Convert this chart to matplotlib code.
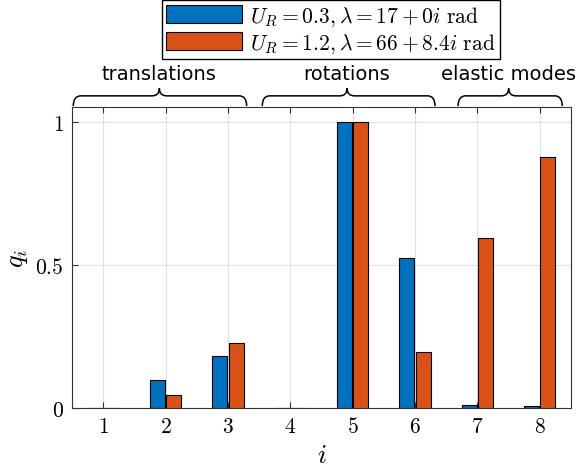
import numpy as np
import matplotlib
matplotlib.use("Agg")
import matplotlib.pyplot as plt
from matplotlib.path import Path
from matplotlib.patches import PathPatch
from matplotlib.transforms import blended_transform_factory

plt.rcParams["mathtext.fontset"] = "cm"
plt.rcParams["font.family"] = "DejaVu Sans"

# data
modes = [1, 2, 3, 4, 5, 6, 7, 8]
q_low = [0.0, 0.098, 0.183, 0.0, 1.0, 0.524, 0.010, 0.008]
q_high = [0.0, 0.045, 0.227, 0.0, 1.0, 0.196, 0.593, 0.876]
labels = [r"$U_R = 0.3, \lambda = 17 + 0i\ \mathrm{rad}$",
          r"$U_R = 1.2, \lambda = 66 + 8.4i\ \mathrm{rad}$"]
groups = ["translations", "rotations", "elastic modes"]
group_spans = [(0.52, 3.30, 1.90), (3.55, 6.32, 4.91), (6.69, 8.36, 7.50)]

blue = "#0072BD"
orange = "#D95319"

fig = plt.figure(figsize=(5.86, 4.77), dpi=100)
ax = fig.add_axes([0.1229, 0.1426, 0.8515, 0.631])

x = np.array(modes)
w = 0.24
ax.bar(x - 0.13, q_low, width=w, color=blue, edgecolor="black", linewidth=0.8, label=labels[0], zorder=3)
ax.bar(x + 0.13, q_high, width=w, color=orange, edgecolor="black", linewidth=0.8, label=labels[1], zorder=3)

ax.set_xlim(0.5, 8.5)
ax.set_ylim(0, 1.052)
ax.set_xticks(modes)
ax.set_xticklabels([f"${m}$" for m in modes])
ax.set_yticks([0, 0.5, 1])
ax.set_yticklabels(["$0$", "$0.5$", "$1$"])
ax.tick_params(direction="in", labelsize=15.5, top=True, right=False, length=4, color="#333333", pad=6)
ax.grid(True, color="#e0e0e0", linewidth=0.8)
ax.set_axisbelow(True)
for s in ax.spines.values():
    s.set_color("#333333")
ax.set_xlabel("$i$", fontsize=19, labelpad=4)
ax.set_ylabel("$q_i$", fontsize=19, labelpad=4)

# braces over the mode groups
trans = blended_transform_factory(ax.transData, ax.transAxes)
y0, y1, y2 = 1.003, 1.037, 1.062
r = 0.12
for name, (xa, xb, xm) in zip(groups, group_spans):
    verts = [(xa, y0), (xa, y1), (xa + r, y1), (xm - r, y1), (xm, y1), (xm, y2),
             (xm, y1), (xm + r, y1), (xb - r, y1), (xb, y1), (xb, y0)]
    codes = [Path.MOVETO, Path.CURVE3, Path.CURVE3, Path.LINETO, Path.CURVE3, Path.CURVE3,
             Path.CURVE3, Path.CURVE3, Path.LINETO, Path.CURVE3, Path.CURVE3]
    ax.add_patch(PathPatch(Path(verts, codes), transform=trans, fill=False,
                           edgecolor="black", linewidth=1.1, clip_on=False))
    ax.text(xm, 1.08, name, transform=trans, ha="center", va="bottom", fontsize=14)

fig.legend(loc="upper center", bbox_to_anchor=(0.5648, 1.003), fontsize=15.5,
           handlelength=3.5, handleheight=0.85, handletextpad=0.4, borderpad=0.2,
           labelspacing=0.15, borderaxespad=0.1, fancybox=False, edgecolor="black", framealpha=1)

fig.savefig("out.png", dpi=100)
